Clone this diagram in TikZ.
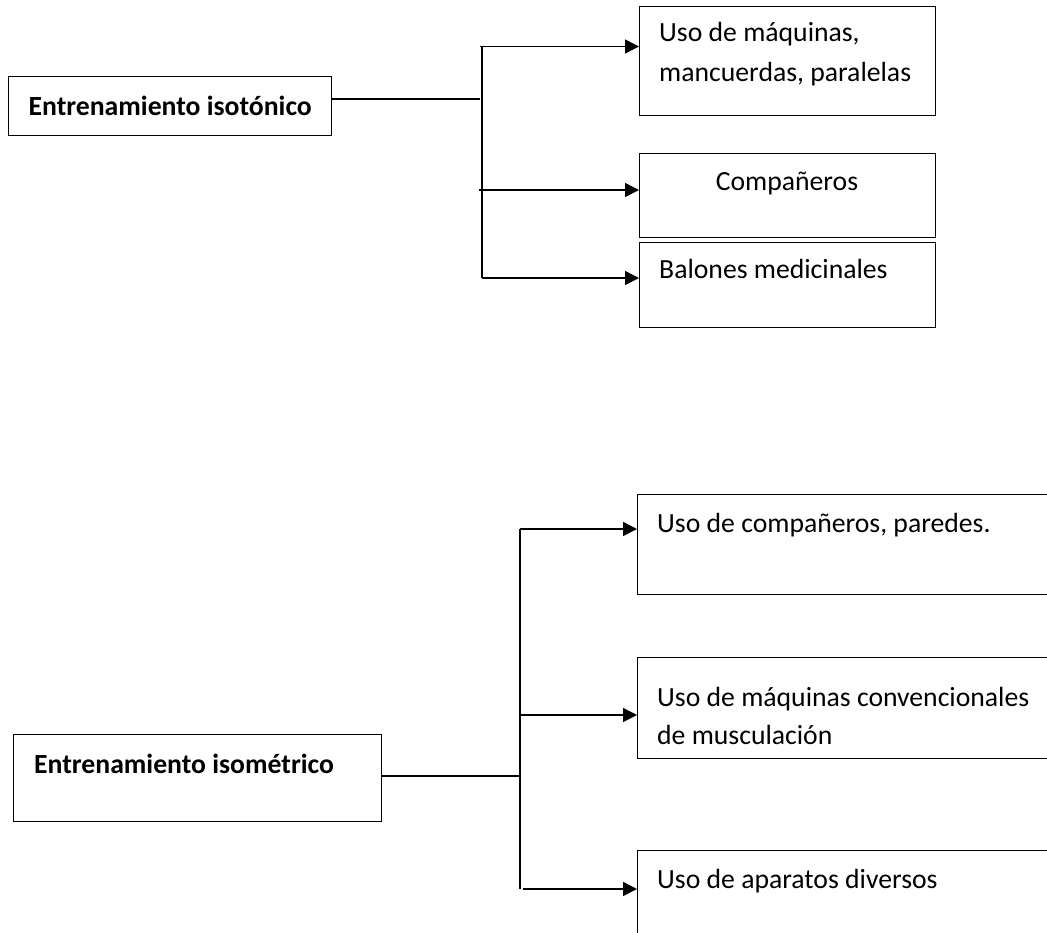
\documentclass[tikz,border=0pt]{standalone}
\usepackage{fontspec}
\setmainfont{Carlito}
\usetikzlibrary{arrows.meta}
\begin{document}
\begin{tikzpicture}[x=1pt,y=-1pt,
  box/.style={draw, line width=1.4pt, rectangle, anchor=north west, inner sep=0pt},
  txt/.style={inner sep=0pt, font=\fontsize{27.7}{40}\selectfont},
  lbl/.style={txt, anchor=base west},
  conn/.style={line width=1.5pt},
  arr/.style={conn, -{Triangle[length=14pt,width=14pt]}}]
\useasboundingbox (0,0) rectangle (1047,932);
\clip (0,0) rectangle (1047,932);

% ---------- isotonic training ----------
\node[box, txt, font=\fontsize{27.7}{40}\selectfont\bfseries,
      minimum width=323, minimum height=59] (A) at (8,76) {Entrenamiento isotónico};
\node[box, minimum width=296, minimum height=109] (B1) at (639,6) {};
\node[box, minimum width=296, minimum height=84]  (B2) at (639,153) {};
\node[box, minimum width=296, minimum height=85]  (B3) at (639,242) {};

\node[lbl] (tB1a) at (659,41) {Uso de máquinas,};
\node[lbl] (tB1b) at (659,81) {mancuerdas, paralelas};
\node[txt, anchor=base] (tB2) at (787,190) {Compañeros};
\node[lbl] (tB3) at (659,278) {Balones medicinales};

\coordinate (jA) at (480,99);
\coordinate (sA1) at (480,46.5);
\coordinate (sA2) at (479,190);
\coordinate (sA3) at (482,278);
\coordinate (tA) at (482,46.5);

\draw[conn] (A.east |- jA) -- (jA);
\draw[conn] (tA) -- (sA3);
\draw[arr] (sA1) -- (sA1 -| B1.west);
\draw[arr] (sA2) -- (sA2 -| B2.west);
\draw[arr] (sA3) -- (sA3 -| B3.west);

% ---------- isometric training ----------
\node[box, minimum width=368, minimum height=87] (D) at (13,734) {};
\node[lbl, font=\fontsize{27.7}{40}\selectfont\bfseries] (tD) at (34,773) {Entrenamiento isométrico};

\node[box, minimum width=500, minimum height=100] (E1) at (637,494) {};
\node[box, minimum width=500, minimum height=101] (E2) at (637,657) {};
\node[box, minimum width=500, minimum height=150] (E3) at (637,850) {};

\node[lbl] (tE1) at (657,532) {Uso de compañeros, paredes.};
\node[lbl] (tE2a) at (657,706) {Uso de máquinas convencionales};
\node[lbl] (tE2b) at (657,744) {de musculación};
\node[lbl] (tE3) at (657,888) {Uso de aparatos diversos};

\coordinate (jD) at (520,776);
\coordinate (sD1) at (520,529);
\coordinate (sD2) at (520,715);
\coordinate (bD) at (520,889);
\coordinate (sD3) at (523,889);

\draw[conn] (D.east |- jD) -- (jD);
\draw[conn] (sD1) -- (bD);
\draw[arr] (sD1) -- (sD1 -| E1.west);
\draw[arr] (sD2) -- (sD2 -| E2.west);
\draw[arr] (sD3) -- (sD3 -| E3.west);
\end{tikzpicture}
\end{document}
